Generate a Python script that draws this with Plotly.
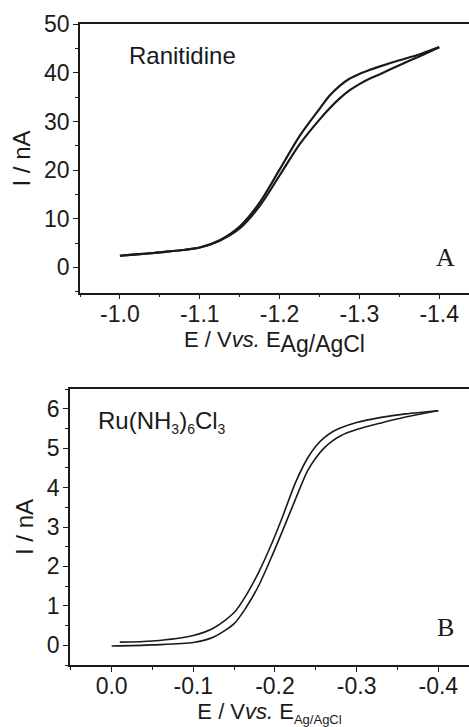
import plotly.graph_objects as go

# Panel A: Ranitidine
E_A = [-1.00, -1.05, -1.10, -1.125, -1.15, -1.175, -1.20, -1.225, -1.25, -1.2625, -1.275, -1.2875, -1.30, -1.3125, -1.325, -1.35, -1.375, -1.40]
I_A_upper = [2.4, 3.1, 4.1, 5.6, 8.4, 13.3, 20.1, 27.0, 32.6, 35.3, 37.3, 38.8, 39.8, 40.6, 41.3, 42.6, 43.8, 45.3]
I_A_lower = [2.4, 3.1, 4.1, 5.5, 8.0, 12.6, 18.9, 25.3, 30.4, 32.7, 34.7, 36.4, 37.7, 38.8, 39.7, 41.6, 43.4, 45.3]

# Panel B: Ru(NH3)6Cl3
E_B_upper = [-0.01, -0.05, -0.10, -0.125, -0.15, -0.165, -0.18, -0.195, -0.21, -0.225, -0.24, -0.25, -0.26, -0.27, -0.28, -0.30, -0.33, -0.36, -0.40]
I_B_upper = [0.08, 0.11, 0.25, 0.44, 0.83, 1.28, 1.85, 2.53, 3.30, 4.12, 4.75, 5.05, 5.26, 5.41, 5.51, 5.65, 5.78, 5.87, 5.95]
E_B_lower = [0.0, -0.05, -0.10, -0.125, -0.15, -0.165, -0.18, -0.195, -0.21, -0.225, -0.24, -0.25, -0.26, -0.27, -0.28, -0.30, -0.33, -0.36, -0.40]
I_B_lower = [-0.02, 0.01, 0.07, 0.21, 0.55, 0.97, 1.51, 2.20, 2.94, 3.70, 4.43, 4.75, 5.00, 5.18, 5.31, 5.47, 5.64, 5.79, 5.95]

x_ticks_A = [-1.0, -1.1, -1.2, -1.3, -1.4]
x_ticks_B = [0.0, -0.1, -0.2, -0.3, -0.4]

W, H = 469, 727
INK = "#1a1a1a"
SANS = "Liberation Sans, Arial, sans-serif"
SERIF = "Liberation Serif, Times New Roman, serif"

fig = go.Figure()
for y in (I_A_upper, I_A_lower):
    fig.add_trace(go.Scatter(x=E_A, y=y, mode="lines", xaxis="x", yaxis="y",
                             line=dict(color=INK, width=2.2, shape="spline", smoothing=0.8),
                             showlegend=False, hoverinfo="skip"))
for x, y in ((E_B_upper, I_B_upper), (E_B_lower, I_B_lower)):
    fig.add_trace(go.Scatter(x=x, y=y, mode="lines", xaxis="x2", yaxis="y2",
                             line=dict(color=INK, width=1.6, shape="spline", smoothing=0.8),
                             showlegend=False, hoverinfo="skip"))

def px_x(p):
    return p / W

def px_y(p):
    return 1 - p / H

common_x = dict(showline=True, linecolor=INK, linewidth=1.5, mirror=True,
                ticks="outside", ticklen=5, tickwidth=1.2, tickcolor=INK,
                showgrid=False, zeroline=False, automargin=False,
                ticklabelstandoff=-5,
                tickfont=dict(family=SANS, size=23, color=INK),
                minor=dict(ticks="outside", ticklen=3, tickwidth=1, tickcolor=INK, dtick=0.05))
common_y = dict(showline=True, linecolor=INK, linewidth=1.5, mirror=False,
                ticks="outside", ticklen=5, tickwidth=1.2, tickcolor=INK,
                showgrid=False, zeroline=False, automargin=False,
                ticklabelstandoff=-1,
                tickfont=dict(family=SANS, size=23, color=INK))

xt = "E / V<i>vs.</i> E"
fig.update_layout(
    width=W, height=H, margin=dict(l=0, r=0, t=0, b=0, autoexpand=False),
    paper_bgcolor="white", plot_bgcolor="white",
    xaxis=dict(common_x, domain=[px_x(80), 1], range=[-0.95, -1.4373],
               tickvals=x_ticks_A, ticktext=["%.1f" % v for v in x_ticks_A], anchor="y",
               title=dict(text=xt + "<sub><span style='font-size:23px'>Ag/AgCl</span></sub>\u00a0\u00a0",
                          font=dict(family=SANS, size=22, color=INK), standoff=2)),
    yaxis=dict(common_y, domain=[px_y(292.7), px_y(24.3)], range=[-5.2, 50],
               tickvals=[0, 10, 20, 30, 40, 50], anchor="x",
               minor=dict(ticks="outside", ticklen=3, tickwidth=1, tickcolor=INK, dtick=5),
               title=dict(text="I / nA", font=dict(family=SANS, size=24, color=INK), standoff=7)),
    xaxis2=dict(common_x, domain=[px_x(70), 1], range=[0.051, -0.4376],
                tickvals=x_ticks_B, ticktext=["%.1f" % v for v in x_ticks_B], anchor="y2",
                title=dict(text=xt + "<sub><span style='font-size:13px'>Ag/AgCl</span></sub>",
                           font=dict(family=SANS, size=22, color=INK), standoff=2)),
    yaxis2=dict(common_y, domain=[px_y(665), px_y(389)], range=[-0.5, 6.5],
                tickvals=[0, 1, 2, 3, 4, 5, 6], anchor="x2",
                minor=dict(ticks="outside", ticklen=3, tickwidth=1, tickcolor=INK, dtick=0.5),
                title=dict(text="I / nA", font=dict(family=SANS, size=24, color=INK), standoff=6)),
    annotations=[
        dict(text="Ranitidine", x=px_x(127), y=px_y(55), xref="paper", yref="paper",
             xanchor="left", yanchor="middle", showarrow=False,
             font=dict(family=SANS, size=24, color=INK)),
        dict(text="A", x=px_x(445), y=px_y(257), xref="paper", yref="paper",
             xanchor="center", yanchor="middle", showarrow=False,
             font=dict(family=SERIF, size=26, color=INK)),
        dict(text="Ru(NH<sub><span style='font-size:14px'>3</span></sub>)"
                  "<sub><span style='font-size:14px'>6</span></sub>"
                  "Cl<sub><span style='font-size:14px'>3</span></sub>",
             x=px_x(96), y=px_y(422),
             xref="paper", yref="paper", xanchor="left", yanchor="middle", showarrow=False,
             font=dict(family=SANS, size=24, color=INK)),
        dict(text="B", x=px_x(445), y=px_y(627), xref="paper", yref="paper",
             xanchor="center", yanchor="middle", showarrow=False,
             font=dict(family=SERIF, size=26, color=INK)),
    ],
)

fig.write_html("out.html", config={"displayModeBar": False},
               post_script="document.body.style.margin='0';document.body.style.overflow='hidden';")
